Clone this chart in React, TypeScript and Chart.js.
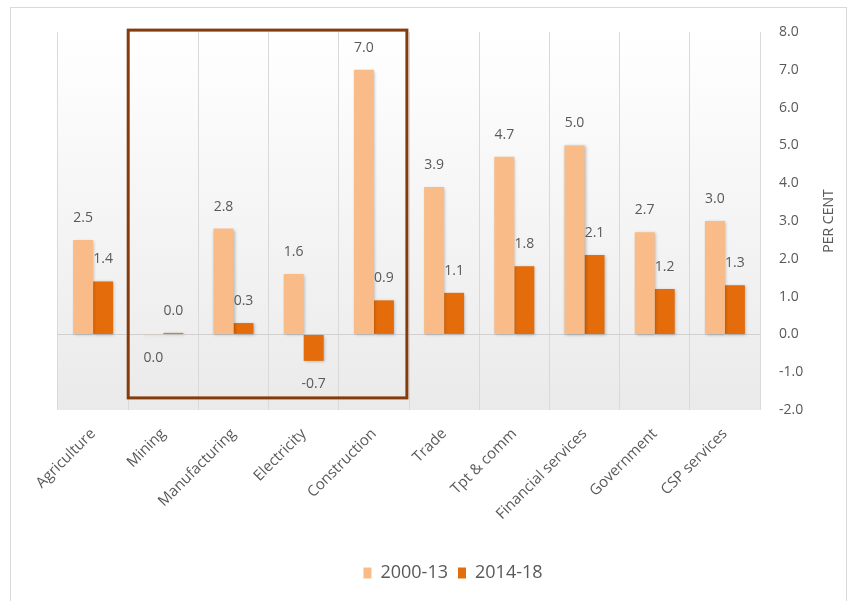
import React, { useEffect, useRef } from "react";
import { Chart, registerables } from "chart.js";

Chart.register(...registerables);

const categories = [
  "Agriculture",
  "Mining",
  "Manufacturing",
  "Electricity",
  "Construction",
  "Trade",
  "Tpt & comm",
  "Financial services",
  "Government",
  "CSP services",
];
const series2000_13 = [2.5, -0.02, 2.8, 1.6, 7.0, 3.9, 4.7, 5.0, 2.7, 3.0];
const series2014_18 = [1.4, 0.04, 0.3, -0.7, 0.9, 1.1, 1.8, 2.1, 1.2, 1.3];
const seriesNames = ["2000-13", "2014-18"];
const yTicks = [-2, -1, 0, 1, 2, 3, 4, 5, 6, 7, 8];
const yTitle = "PER CENT";

const LIGHT = "#F9BC88";
const DARK = "#E46C0A";
const TEXT = "#595959";
const FONT = "'Open Sans', 'Noto Sans', sans-serif";

const fmt = (v: number) => {
  const s = v.toFixed(1);
  return s === "-0.0" ? "0.0" : s;
};

const bgPlugin = {
  id: "bgGradient",
  beforeDraw(chart: any) {
    const { ctx, chartArea } = chart;
    if (!chartArea) return;
    const g = ctx.createLinearGradient(0, chartArea.top, 0, chartArea.bottom);
    g.addColorStop(0, "#ffffff");
    g.addColorStop(1, "#eaeaea");
    ctx.save();
    ctx.fillStyle = g;
    ctx.fillRect(chartArea.left, chartArea.top, chartArea.right - chartArea.left, chartArea.bottom - chartArea.top);
    ctx.restore();
  },
};

const shadowPlugin = {
  id: "barShadow",
  beforeDatasetsDraw(chart: any) {
    const ctx = chart.ctx;
    ctx.save();
    ctx.shadowColor = "rgba(0,0,0,0.25)";
    ctx.shadowBlur = 3;
    ctx.shadowOffsetX = 1;
    ctx.shadowOffsetY = 1;
  },
  afterDatasetsDraw(chart: any) {
    chart.ctx.restore();
  },
};

const labelPlugin = {
  id: "valueLabels",
  afterDatasetsDraw(chart: any) {
    const ctx = chart.ctx;
    ctx.save();
    ctx.font = `14px ${FONT}`;
    ctx.fillStyle = TEXT;
    ctx.textAlign = "center";
    ctx.textBaseline = "middle";
    chart.data.datasets.forEach((ds: any, di: number) => {
      const meta = chart.getDatasetMeta(di);
      meta.data.forEach((bar: any, i: number) => {
        const v = ds.data[i] as number;
        const y = v < 0 ? bar.y + 23 : bar.y - 22;
        ctx.fillText(fmt(v), bar.x, y);
      });
    });
    ctx.restore();
  },
};

const highlightPlugin = {
  id: "highlightBox",
  afterDraw(chart: any) {
    const { ctx, scales, chartArea } = chart;
    const x = scales.x;
    const y = scales.y;
    const left = x.getPixelForValue(0.5);
    const right = x.getPixelForValue(4.47);
    const top = y.getPixelForValue(8.05);
    const bottom = y.getPixelForValue(-1.68);
    ctx.save();
    ctx.strokeStyle = "#843C0C";
    ctx.lineWidth = 3;
    ctx.strokeRect(left, top, right - left, bottom - top);
    ctx.restore();

    // rotated axis title (reads bottom to top)
    ctx.save();
    ctx.translate(chartArea.right + 69, (chartArea.top + chartArea.bottom) / 2);
    ctx.rotate(-Math.PI / 2);
    ctx.font = `14px ${FONT}`;
    ctx.fillStyle = TEXT;
    ctx.textAlign = "center";
    ctx.textBaseline = "middle";
    ctx.fillText(yTitle, 0, 0);
    ctx.restore();
  },
};

export default function App() {
  const ref = useRef<HTMLCanvasElement | null>(null);

  useEffect(() => {
    if (!ref.current) return;
    const chart = new Chart(ref.current, {
      type: "bar",
      data: {
        labels: categories,
        datasets: [
          {
            label: seriesNames[0],
            data: series2000_13,
            backgroundColor: LIGHT,
            categoryPercentage: 0.57,
            barPercentage: 1.0,
          },
          {
            label: seriesNames[1],
            data: series2014_18,
            backgroundColor: DARK,
            categoryPercentage: 0.57,
            barPercentage: 1.0,
          },
        ],
      },
      options: {
        animation: false,
        responsive: false,
        maintainAspectRatio: false,
        layout: { padding: { left: 58, top: 32, right: 8, bottom: 9 } },
        plugins: {
          tooltip: { enabled: false },
          legend: {
            position: "bottom",
            labels: {
              boxWidth: 8,
              boxHeight: 11,
              color: TEXT,
              font: { family: FONT, size: 18 },
              padding: 10,
            },
          },
        },
        scales: {
          x: {
            offset: true,
            grid: {
              offset: true,
              color: "#d9d9d9",
              drawTicks: false,
            },
            border: { display: false },
            ticks: {
              color: TEXT,
              font: { family: FONT, size: 15 },
              maxRotation: 45,
              minRotation: 45,
              padding: 15,
              autoSkip: false,
            },
            afterFit(scale: any) {
              scale.height = 144;
            },
          },
          y: {
            position: "right",
            min: -2,
            max: 8,
            afterBuildTicks(scale: any) {
              scale.ticks = yTicks.map((v) => ({ value: v }));
            },
            grid: {
              color: (c: any) => (c.tick && c.tick.value === 0 ? "#d0d0d0" : "rgba(0,0,0,0)"),
              drawTicks: false,
            },
            border: { display: false },
            ticks: {
              color: TEXT,
              font: { family: FONT, size: 14 },
              padding: 19,
              callback: (v: any) => Number(v).toFixed(1),
            },
            afterFit(scale: any) {
              scale.width = 88;
            },
          },
        },
      },
      plugins: [bgPlugin, shadowPlugin, labelPlugin, highlightPlugin],
    } as any);
    return () => chart.destroy();
  }, []);

  return (
    <div style={{ position: "absolute", left: 0, top: 0, width: 856, height: 601, background: "#ffffff" }}>
      <canvas ref={ref} width={856} height={601} style={{ position: "absolute", left: 0, top: 0 }} />
      <div
        style={{
          position: "absolute",
          left: 10,
          top: 7,
          width: 837,
          height: 600,
          border: "1px solid #d9d9d9",
          boxSizing: "border-box",
          pointerEvents: "none",
        }}
      />
    </div>
  );
}
